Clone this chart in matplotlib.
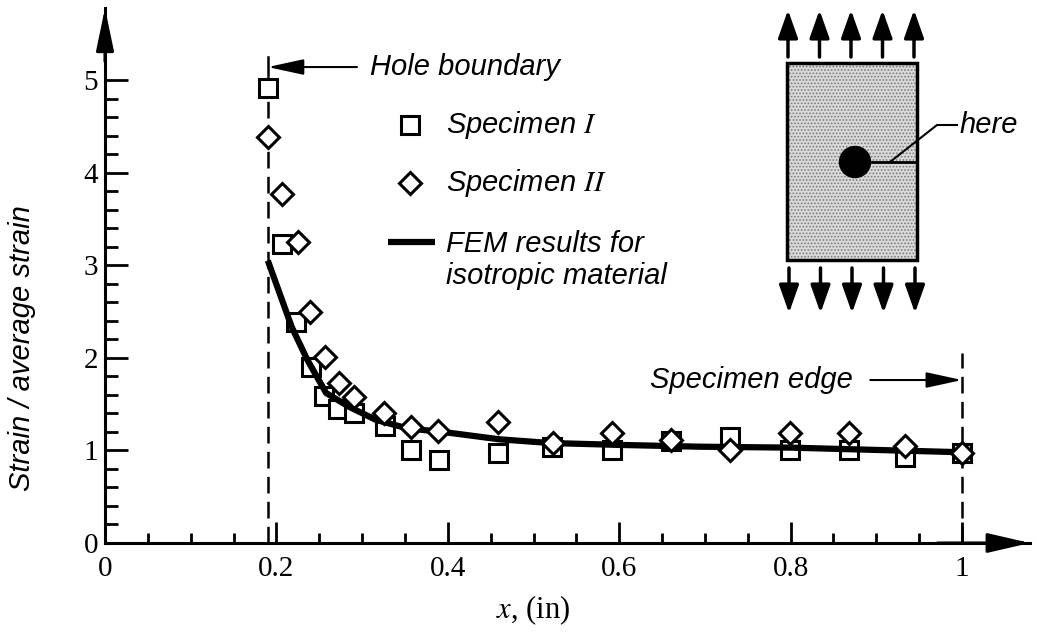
import matplotlib.pyplot as plt
import numpy as np
from matplotlib.patches import Rectangle, Circle

plt.rcParams.update({'mathtext.fontset': 'stix',
                     'lines.scale_dashes': False,
                     'hatch.linewidth': 0.8})

# Specimen I (squares)
spec1_x = [0.19, 0.206, 0.223, 0.240, 0.255, 0.272, 0.291, 0.327, 0.357, 0.390,
           0.458, 0.522, 0.592, 0.661, 0.729, 0.799, 0.868, 0.933, 1.0]
spec1_y = [4.91, 3.23, 2.39, 1.90, 1.59, 1.45, 1.40, 1.26, 1.00, 0.90,
           0.97, 1.04, 1.00, 1.10, 1.14, 1.00, 1.00, 0.93, 0.97]

# Specimen II (diamonds)
spec2_x = [0.19, 0.207, 0.225, 0.239, 0.257, 0.273, 0.291, 0.326, 0.357, 0.389,
           0.458, 0.523, 0.592, 0.661, 0.729, 0.799, 0.868, 0.933, 1.0]
spec2_y = [4.38, 3.77, 3.25, 2.49, 2.01, 1.73, 1.58, 1.40, 1.25, 1.21,
           1.31, 1.08, 1.19, 1.11, 1.00, 1.19, 1.19, 1.05, 0.97]

# FEM results for isotropic material
fem_x = [0.19, 0.218, 0.236, 0.258, 0.285, 0.316, 0.352, 0.402, 0.460, 0.519,
         0.597, 0.694, 0.80, 1.0]
fem_y = [3.05, 2.33, 1.98, 1.62, 1.47, 1.33, 1.24, 1.19, 1.12, 1.08,
         1.06, 1.04, 1.03, 0.98]

hole_x = 0.19
edge_x = 1.0
xticks = [0, 0.2, 0.4, 0.6, 0.8, 1]
xticklabels = ['0', '0.2', '0.4', '0.6', '0.8', '1']
yticks = [0, 1, 2, 3, 4, 5]

sans = dict(family='Liberation Sans', style='italic', size=21)
serif = 'Liberation Serif'

fig = plt.figure(figsize=(10.37, 6.34), dpi=100)
W, H = 1037, 634
x0, y0, ppx, ppy = 105, 543, 857, 92.6
ax = fig.add_axes([x0 / W, 1 - y0 / H, (1030 - x0) / W, (y0 - 8) / H])
ax.set_xlim(0, (1030 - x0) / ppx)
ax.set_ylim(0, (y0 - 8) / ppy)

for s in ['top', 'right']:
    ax.spines[s].set_visible(False)
for s in ['left', 'bottom']:
    ax.spines[s].set_linewidth(2.2)

ax.set_xticks(xticks)
ax.set_xticklabels(xticklabels, family=serif, size=21)
ax.set_xticks(np.arange(0.05, 1.0, 0.05), minor=True)
ax.set_yticks(yticks)
ax.set_yticklabels([str(v) for v in yticks], family=serif, size=21)
ax.set_yticks(np.arange(0.2, 5.0, 0.2), minor=True)
ax.tick_params(which='both', direction='in', width=2)
ax.tick_params(axis='x', which='major', length=15, pad=9)
ax.tick_params(axis='x', which='minor', length=7.5)
ax.tick_params(axis='y', which='major', length=16.5, pad=5)
ax.tick_params(axis='y', which='minor', length=9.5)

# axis arrow heads
ax.annotate('', xy=(1, 0), xycoords='axes fraction', xytext=(0.9, 0),
            arrowprops=dict(arrowstyle='-|>,head_length=1.3,head_width=0.3',
                            mutation_scale=20, lw=2.2, color='k',
                            shrinkA=0, shrinkB=0))
ax.annotate('', xy=(0, 1), xycoords='axes fraction', xytext=(0, 0.9),
            arrowprops=dict(arrowstyle='-|>,head_length=1.3,head_width=0.27',
                            mutation_scale=20, lw=2.2, color='k',
                            shrinkA=0, shrinkB=0))

# data
ax.plot(spec1_x, spec1_y, 's', ms=13.5, mfc='white', mec='k', mew=2.2, zorder=3)
ax.plot(fem_x, fem_y, '-', color='k', lw=4.5, solid_capstyle='butt', zorder=4)
ax.plot(spec2_x, spec2_y, 'D', ms=11, mfc='white', mec='k', mew=2.2, zorder=5)

# hole boundary / specimen edge
ax.vlines(hole_x, 0, 5.1, colors='k', lw=1.8, linestyles=(0, (12, 6)), zorder=2)
ax.plot([hole_x, hole_x], [5.05, 5.25], color='k', lw=1.8)
ax.annotate('', xy=(hole_x, 5.14), xytext=(0.294, 5.14),
            arrowprops=dict(arrowstyle='-|>,head_length=1.1,head_width=0.24',
                            mutation_scale=20, lw=1.5, color='k',
                            shrinkA=0, shrinkB=0))
ax.text(0.309, 5.14, 'Hole boundary', ha='left', va='center', **sans)

ax.vlines(edge_x, 0, 2.05, colors='k', lw=1.8, linestyles=(0, (12, 6)), zorder=2)
ax.annotate('', xy=(edge_x, 1.76), xytext=(0.893, 1.76),
            arrowprops=dict(arrowstyle='-|>,head_length=1.1,head_width=0.24',
                            mutation_scale=20, lw=1.5, color='k',
                            shrinkA=0, shrinkB=0))
ax.text(0.873, 1.76, 'Specimen edge', ha='right', va='center', **sans)

# legend drawn by hand so the line sits on the first text row
tA = ax.transAxes
ax.plot([0.330], [0.781], 's', ms=13.5, mfc='white', mec='k', mew=2.2, transform=tA)
ax.plot([0.330], [0.673], 'D', ms=11, mfc='white', mec='k', mew=2.2, transform=tA)
ax.plot([0.306, 0.357], [0.563, 0.563], '-', color='k', lw=4.5,
        solid_capstyle='butt', transform=tA)
ax.text(0.369, 0.781, 'Specimen $I$', ha='left', va='center', transform=tA, **sans)
ax.text(0.369, 0.673, 'Specimen $II$', ha='left', va='center', transform=tA, **sans)
ax.text(0.369, 0.529, 'FEM results for\nisotropic material', ha='left',
        va='center', linespacing=1.2, transform=tA, **sans)

# axis labels
fig.text((x0 + 0.5 * ppx) / W, 1 - 610 / H, '$x$, (in)', ha='center', va='center',
         family=serif, size=22)
fig.text(22 / W, 1 - 348 / H, 'Strain / average strain', rotation=90,
         ha='center', va='center', **sans)

# specimen sketch (pixel coordinates overlay)
ov = fig.add_axes([0, 0, 1, 1], zorder=5)
ov.set_xlim(0, W)
ov.set_ylim(H, 0)
ov.axis('off')
ov.patch.set_alpha(0)
ov.add_patch(Rectangle((787, 63), 130, 197, facecolor='#dadada', edgecolor='#7a7a7a',
                       hatch='.....', lw=0))
ov.add_patch(Rectangle((787, 63), 130, 197, facecolor='none', edgecolor='k', lw=2.5))
ov.add_patch(Circle((855, 162), 15.5, color='k'))
ov.plot([860, 917], [162, 162], color='k', lw=2)
ov.plot([890, 937, 957], [162, 125, 125], color='k', lw=1.5)
ov.text(960, 125, 'here', ha='left', va='center', **sans)
for ax_x in np.linspace(788, 914, 5):
    ov.annotate('', xy=(ax_x, 10), xytext=(ax_x, 57), xycoords='data',
                arrowprops=dict(arrowstyle='-|>,head_length=0.85,head_width=0.3',
                                mutation_scale=20, lw=2.5, color='k',
                                shrinkA=0, shrinkB=0))
    ov.annotate('', xy=(ax_x + 1, 313), xytext=(ax_x + 1, 268), xycoords='data',
                arrowprops=dict(arrowstyle='-|>,head_length=0.85,head_width=0.3',
                                mutation_scale=20, lw=2.5, color='k',
                                shrinkA=0, shrinkB=0))

fig.savefig('out.png', dpi=100)
